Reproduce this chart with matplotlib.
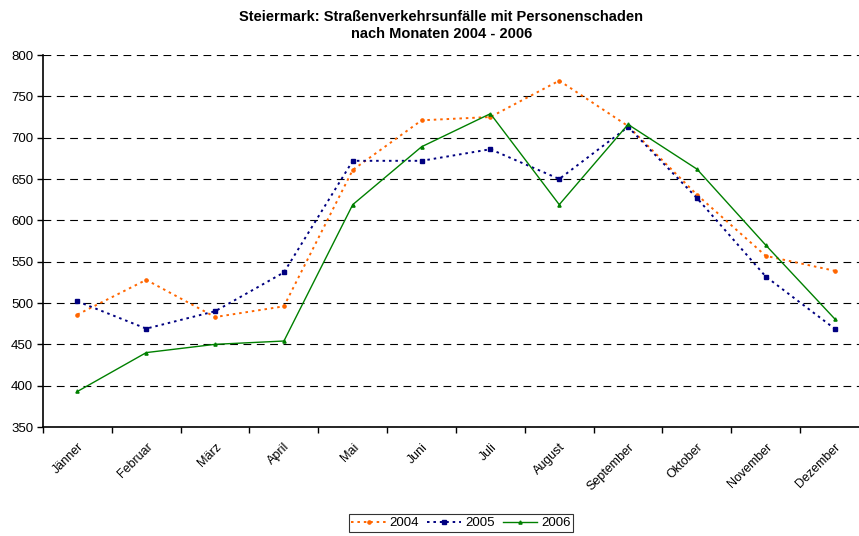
import matplotlib
matplotlib.use("Agg")
import matplotlib.pyplot as plt
import numpy as np

months = ["Jänner", "Februar", "März", "April", "Mai", "Juni", "Juli",
          "August", "September", "Oktober", "November", "Dezember"]
y2004 = [486, 528, 483, 496, 661, 721, 725, 769, 714, 631, 557, 539]
y2005 = [502, 469, 490, 537, 672, 672, 686, 650, 713, 627, 532, 469]
y2006 = [393, 440, 450, 454, 619, 689, 729, 619, 716, 662, 570, 481]
yticks = list(range(350, 801, 50))

plt.rcParams['font.family'] = ['Liberation Sans', 'DejaVu Sans']

fig = plt.figure(figsize=(8.59, 5.36), dpi=100)
W, H = 859, 536
left, right, top, bottom = 43, 869, 55, 427
ax = fig.add_axes([left / W, 1 - bottom / H, (right - left) / W, (bottom - top) / H])

x = np.arange(len(months))
ax.plot(x, y2004, color='#FF6600', linestyle=(0, (1.3, 2.0)), linewidth=1.4,
        marker='o', markersize=2.3, label='2004', zorder=3)
ax.plot(x, y2005, color='#000080', linestyle=(0, (1.3, 2.0)), linewidth=1.4,
        marker='s', markersize=2.3, label='2005', zorder=3)
ax.plot(x, y2006, color='#008000', linestyle='-', linewidth=1.0,
        marker='^', markersize=2.3, label='2006', zorder=3)

ax.set_xlim(-0.5, len(months) - 0.5)
ax.set_ylim(350, 800)
ax.set_yticks(yticks)
ax.set_yticklabels([str(v) for v in yticks], fontsize=9.5)
ax.yaxis.grid(True, color='black', linestyle=(0, (7, 5)), linewidth=0.8)
ax.set_axisbelow(True)

ax.set_xticks(np.arange(len(months) + 1) - 0.5)
ax.set_xticklabels([])
ax.set_xticks(x, minor=True)
ax.set_xticklabels(months, minor=True, rotation=45, ha='right',
                   rotation_mode='anchor', fontsize=9)
ax.tick_params(axis='x', which='major', direction='out', length=4, width=1)
ax.tick_params(axis='x', which='minor', length=0, pad=10)
ax.tick_params(axis='y', direction='out', length=4, width=1, pad=3)

for s in ['top', 'right']:
    ax.spines[s].set_visible(False)
ax.spines['left'].set_linewidth(1.2)
ax.spines['bottom'].set_linewidth(1.2)

fig.text(441 / W, 1 - 17 / H, "Steiermark: Straßenverkehrsunfälle mit Personenschaden",
         ha='center', va='center', fontsize=10.5, fontweight='bold')
fig.text(442 / W, 1 - 34 / H, "nach Monaten 2004 - 2006",
         ha='center', va='center', fontsize=10.5, fontweight='bold')

leg = fig.legend(loc='center', bbox_to_anchor=(461 / W, 1 - 523 / H), ncol=3,
                 fontsize=9.5, frameon=True, fancybox=False, edgecolor='black',
                 handlelength=2.6, handletextpad=0.3, columnspacing=0.6,
                 borderpad=0.2, borderaxespad=0)
leg.get_frame().set_linewidth(0.8)

fig.savefig("out.png", dpi=100)
